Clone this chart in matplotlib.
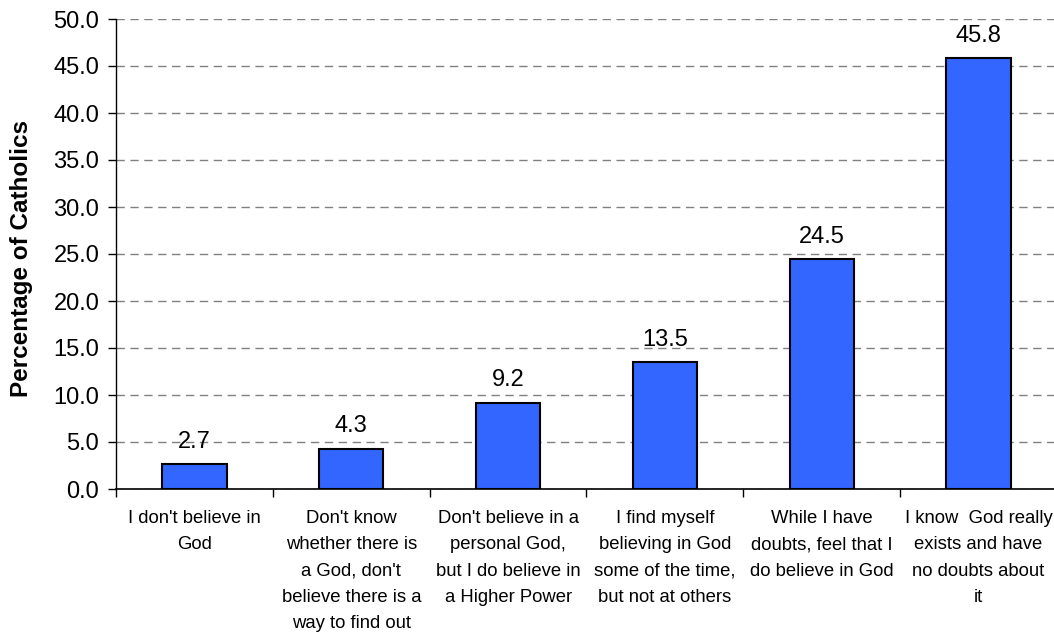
import numpy as np
import matplotlib
matplotlib.use("Agg")
import matplotlib.pyplot as plt

plt.rcParams['font.family'] = ['Liberation Sans', 'DejaVu Sans']

# belief categories and share of respondents (%)
categories = [
    "I don't believe in\nGod",
    "Don't know\nwhether there is\na God, don't\nbelieve there is a\nway to find out",
    "Don't believe in a\npersonal God,\nbut I do believe in\na Higher Power",
    "I find myself\nbelieving in God\nsome of the time,\nbut not at others",
    "While I have\ndoubts, feel that I\ndo believe in God",
    "I know  God really\nexists and have\nno doubts about\nit",
]
percentages = [2.7, 4.3, 9.2, 13.5, 24.5, 45.8]
y_ticks = [0, 5, 10, 15, 20, 25, 30, 35, 40, 45, 50]

fig = plt.figure(figsize=(10.54, 6.37), dpi=100)
ax = fig.add_axes([116 / 1054, 148 / 637, 941 / 1054, 470 / 637])

x = np.arange(len(categories))
bars = ax.bar(x, percentages, width=0.41, color='#3366FF',
              edgecolor='black', linewidth=1.5, zorder=3)

for xi, val in zip(x, percentages):
    ax.annotate(f"{val:.1f}", (xi, val), xytext=(0, 8), textcoords='offset points',
                ha='center', va='bottom', fontsize=17, zorder=4)

ax.set_xlim(-0.5, len(categories) - 0.5)
ax.set_ylim(0, 50)
ax.set_yticks(y_ticks)
ax.set_yticklabels([f"{t:.1f}" for t in y_ticks], fontsize=17)
ax.yaxis.grid(True, linestyle=(0, (6, 4)), color='#808080', linewidth=1, zorder=0)

# labels sit under the bars, tick marks sit on category boundaries
ax.set_xticks(x)
ax.set_xticklabels(categories, fontsize=13.3, linespacing=1.72, va='top')
ax.tick_params(axis='x', which='major', length=0, pad=15)
ax.set_xticks(np.arange(len(categories) + 1) - 0.5, minor=True)
ax.tick_params(axis='x', which='minor', length=6, width=1, direction='out')
ax.tick_params(axis='y', length=6, width=1, direction='out', pad=6)

ax.set_ylabel("Percentage of Catholics", fontsize=17.5, fontweight='bold')
ax.yaxis.set_label_coords(-0.088, 0.49)

for side in ('top', 'right'):
    ax.spines[side].set_visible(False)
ax.spines['left'].set_linewidth(1)
ax.spines['bottom'].set_linewidth(1.2)

fig.savefig("out.png", dpi=100)
